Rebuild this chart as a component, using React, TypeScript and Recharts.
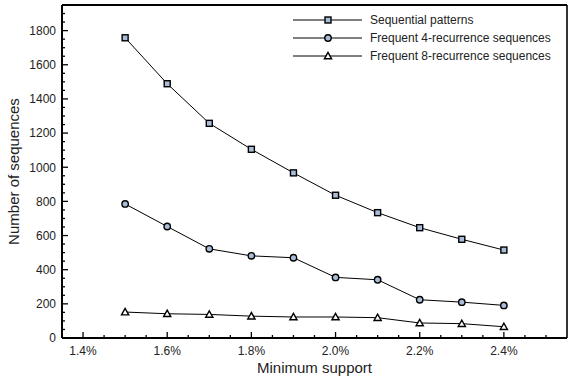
import { Legend, Line, LineChart, XAxis, YAxis } from "recharts";

const support = [1.5, 1.6, 1.7, 1.8, 1.9, 2.0, 2.1, 2.2, 2.3, 2.4];
const sequentialPatterns = [1758, 1489, 1257, 1105, 967, 836, 734, 646, 578, 515];
const frequent4 = [785, 653, 522, 481, 470, 355, 341, 224, 210, 191];
const frequent8 = [152, 142, 138, 128, 123, 123, 119, 88, 84, 66];

const xMajorTicks = [1.4, 1.6, 1.8, 2.0, 2.2, 2.4];
const xTicks = [1.4, 1.45, 1.5, 1.55, 1.6, 1.65, 1.7, 1.75, 1.8, 1.85, 1.9, 1.95, 2.0, 2.05, 2.1, 2.15, 2.2, 2.25, 2.3, 2.35, 2.4, 2.45, 2.5];
const yMajorTicks = [0, 200, 400, 600, 800, 1000, 1200, 1400, 1600, 1800];
const yTicks = [
  0, 50, 100, 150, 200, 250, 300, 350, 400, 450, 500, 550, 600, 650, 700, 750, 800, 850, 900, 950, 1000,
  1050, 1100, 1150, 1200, 1250, 1300, 1350, 1400, 1450, 1500, 1550, 1600, 1650, 1700, 1750, 1800, 1850, 1900,
];

const data = support.map((s, i) => ({
  support: s,
  sequential: sequentialPatterns[i],
  freq4: frequent4[i],
  freq8: frequent8[i],
}));

const FONT = "'Liberation Sans', Arial, Helvetica, sans-serif";
const MARKER_FILL = "#a9bcd8";

const isMajor = (v: number, list: number[]) => list.some((m) => Math.abs(m - v) < 1e-6);

const Marker = ({ shape, cx, cy }: { shape: string; cx: number; cy: number }) => {
  if (shape === "square")
    return <rect x={cx - 3} y={cy - 3} width={6} height={6} fill={MARKER_FILL} stroke="#000" strokeWidth={1.4} />;
  if (shape === "circle") return <circle cx={cx} cy={cy} r={3.2} fill={MARKER_FILL} stroke="#000" strokeWidth={1.4} />;
  return (
    <polygon
      points={`${cx},${cy - 3.6} ${cx - 3.6},${cy + 2.8} ${cx + 3.6},${cy + 2.8}`}
      fill="#fff"
      stroke="#000"
      strokeWidth={1.4}
    />
  );
};

const series = [
  { key: "sequential", name: "Sequential patterns", shape: "square" },
  { key: "freq4", name: "Frequent 4-recurrence sequences", shape: "circle" },
  { key: "freq8", name: "Frequent 8-recurrence sequences", shape: "triangle" },
];

const XTick = (props: any) => {
  const { x, y, payload } = props;
  const major = isMajor(payload.value, xMajorTicks);
  return (
    <g>
      <line x1={x} x2={x} y1={y} y2={y - (major ? 6 : 3)} stroke="#000" strokeWidth={1.3} />
      {major && (
        <text x={x} y={y + 17} textAnchor="middle" fontSize={12} fill="#222" fontFamily={FONT}>
          {payload.value.toFixed(1)}%
        </text>
      )}
    </g>
  );
};

const YTick = (props: any) => {
  const { x, y, payload } = props;
  const major = isMajor(payload.value, yMajorTicks);
  return (
    <g>
      <line x1={x} x2={x + (major ? 6 : 3)} y1={y} y2={y} stroke="#000" strokeWidth={1.3} />
      {major && (
        <text x={x - 6} y={y + 4.3} textAnchor="end" fontSize={12} fill="#222" fontFamily={FONT}>
          {payload.value}
        </text>
      )}
    </g>
  );
};

const LegendBox = () => (
  <div style={{ fontFamily: FONT, fontSize: 12, color: "#222" }}>
    {series.map((s) => (
      <div key={s.key} style={{ display: "flex", alignItems: "center", height: 17.7 }}>
        <svg width={77} height={12} style={{ display: "block" }}>
          <line x1={0} x2={69} y1={6} y2={6} stroke="#000" strokeWidth={1} />
          <Marker shape={s.shape} cx={35} cy={6} />
        </svg>
        <span style={{ whiteSpace: "nowrap" }}>{s.name}</span>
      </div>
    ))}
  </div>
);

export default function App() {
  return (
    <div style={{ position: "absolute", left: 0, top: 0, background: "#fff" }}>
      <LineChart width={574} height={378} data={data} margin={{ top: 4, right: 6, bottom: 39, left: 61 }}>
        <XAxis
          dataKey="support"
          type="number"
          domain={[1.35, 2.55]}
          ticks={xTicks}
          interval={0}
          height={1}
          tickSize={0}
          tickMargin={0}
          tickLine={false}
          tick={<XTick />}
          axisLine={{ stroke: "#000", strokeWidth: 2 }}
          label={{
            content: (p: any) => (
              <text
                x={p.viewBox.x + p.viewBox.width / 2}
                y={p.viewBox.y + 35}
                textAnchor="middle"
                fontSize={15}
                fill="#222"
                fontFamily={FONT}
              >
                Minimum support
              </text>
            ),
          }}
        />
        <XAxis
          xAxisId="top"
          orientation="top"
          dataKey="support"
          type="number"
          domain={[1.35, 2.55]}
          height={1}
          tick={false}
          tickLine={false}
          axisLine={{ stroke: "#000", strokeWidth: 2 }}
        />
        <YAxis
          type="number"
          domain={[0, 1950]}
          ticks={yTicks}
          interval={0}
          width={1}
          tickSize={0}
          tickMargin={0}
          tickLine={false}
          tick={<YTick />}
          axisLine={{ stroke: "#000", strokeWidth: 2 }}
          label={{
            content: (p: any) => {
              const cx = p.viewBox.x - 42;
              const cy = p.viewBox.y + p.viewBox.height / 2;
              return (
                <text
                  x={cx}
                  y={cy}
                  transform={`rotate(-90 ${cx} ${cy})`}
                  textAnchor="middle"
                  fontSize={15}
                  fill="#222"
                  fontFamily={FONT}
                >
                  Number of sequences
                </text>
              );
            },
          }}
        />
        <YAxis
          yAxisId="right"
          orientation="right"
          domain={[0, 1950]}
          width={1}
          tick={false}
          tickLine={false}
          axisLine={{ stroke: "#000", strokeWidth: 1.6 }}
        />
        <Legend
          layout="vertical"
          align="center"
          verticalAlign="middle"
          content={<LegendBox />}
          wrapperStyle={{ top: 11.5, left: 293, width: 280 }}
        />
        {series.map((s) => (
          <Line
            key={s.key}
            dataKey={s.key}
            name={s.name}
            stroke="#000"
            strokeWidth={1}
            isAnimationActive={false}
            dot={(p: any) => <Marker key={`${s.key}-${p.index}`} shape={s.shape} cx={p.cx} cy={p.cy} />}
            activeDot={false}
          />
        ))}
      </LineChart>
    </div>
  );
}
